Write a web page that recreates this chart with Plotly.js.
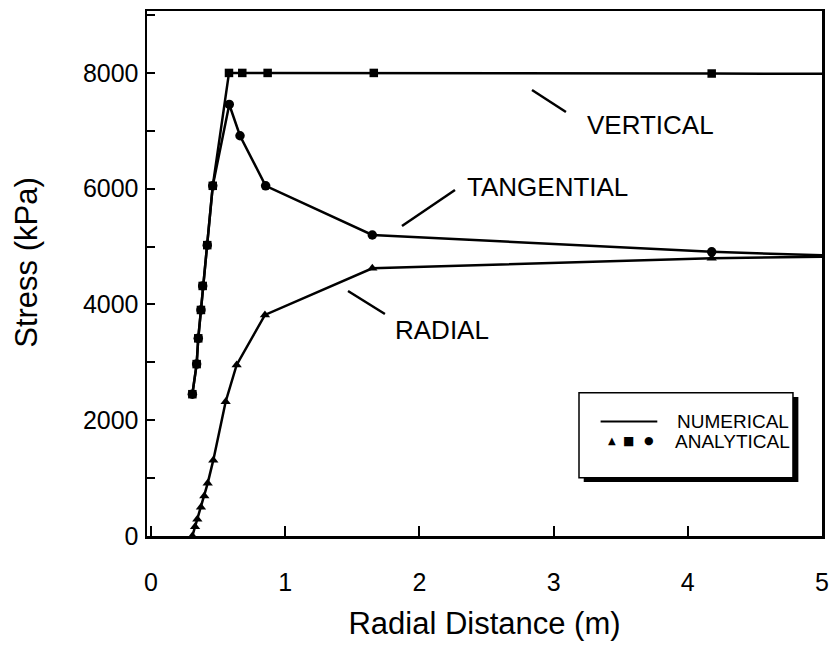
<!DOCTYPE html>
<html>
<head>
<meta charset="utf-8">
<script src="https://cdn.plot.ly/plotly-3.0.1.min.js"></script>
<style>html,body{margin:0;padding:0;background:#fff;}#chart{width:832px;height:665px;}</style>
</head>
<body>
<div id="chart"></div>
<script>
// ---- Data ----
// Analytical points (markers)
const vertAnaX = [0.308, 0.340, 0.352, 0.372, 0.385, 0.419, 0.460, 0.581, 0.680, 0.869, 1.660, 4.178];
const vertAnaY = [2450, 2970, 3415, 3905, 4320, 5025, 6050, 8000, 8000, 8000, 8000, 7990];
const tangAnaX = [0.308, 0.340, 0.352, 0.372, 0.385, 0.419, 0.460, 0.583, 0.663, 0.854, 1.649, 4.178];
const tangAnaY = [2450, 2970, 3415, 3905, 4320, 5025, 6050, 7455, 6915, 6050, 5200, 4910];
const radAnaX  = [0.308, 0.328, 0.345, 0.372, 0.397, 0.422, 0.464, 0.556, 0.638, 0.849, 1.649, 4.178];
const radAnaY  = [0, 160, 290, 495, 690, 910, 1310, 2320, 2955, 3820, 4625, 4800];
// Numerical solution (lines)
const vertNumX = [0.308, 0.340, 0.352, 0.372, 0.385, 0.419, 0.460, 0.581, 0.680, 0.869, 1.660, 4.178, 5.0];
const vertNumY = [2450, 2970, 3415, 3905, 4320, 5025, 6050, 8000, 8000, 8000, 8000, 7990, 7985];
const tangNumX = [0.308, 0.340, 0.352, 0.372, 0.385, 0.419, 0.460, 0.583, 0.663, 0.854, 1.649, 4.178, 5.0];
const tangNumY = [2450, 2970, 3415, 3905, 4320, 5025, 6050, 7455, 6915, 6050, 5200, 4910, 4850];
const radNumX  = [0.308, 0.328, 0.345, 0.372, 0.397, 0.422, 0.464, 0.556, 0.638, 0.849, 1.649, 4.178, 5.0];
const radNumY  = [0, 160, 290, 495, 690, 910, 1310, 2320, 2955, 3820, 4625, 4800, 4825];

const seriesLabels = ["VERTICAL", "TANGENTIAL", "RADIAL"];
const legendLabels = ["NUMERICAL", "ANALYTICAL"];
const xTitle = "Radial Distance (m)";
const yTitle = "Stress (kPa)";

const FONT = "'Liberation Sans', Arial, Helvetica, sans-serif";
const lineStyle = {color: "#000", width: 2.5};

const traces = [
  {x: vertNumX, y: vertNumY, mode: "lines", line: lineStyle, hoverinfo: "skip"},
  {x: tangNumX, y: tangNumY, mode: "lines", line: lineStyle, hoverinfo: "skip"},
  {x: radNumX,  y: radNumY,  mode: "lines", line: lineStyle, hoverinfo: "skip"},
  {x: vertAnaX, y: vertAnaY, mode: "markers", marker: {symbol: "square", size: 8.5, color: "#000"}},
  {x: tangAnaX, y: tangAnaY, mode: "markers", marker: {symbol: "circle", size: 9.5, color: "#000"}},
  {x: radAnaX,  y: radAnaY,  mode: "markers", marker: {symbol: "triangle-up", size: 9, color: "#000"}}
];

const leader = (x0, y0, x1, y1) => ({type: "line", xref: "x", yref: "y", x0, y0, x1, y1, line: {color: "#000", width: 2.5}});

const layout = {
  width: 832, height: 665,
  margin: {l: 147, r: 10, t: 11, b: 129},
  paper_bgcolor: "#fff", plot_bgcolor: "#fff",
  showlegend: false,
  font: {family: FONT, color: "#000"},
  xaxis: {
    range: [-0.03, 5.0], tick0: 0, dtick: 1,
    showline: true, mirror: true, linecolor: "#000", linewidth: 2.5,
    ticks: "inside", ticklen: 10, tickwidth: 2, tickcolor: "#000",
    showgrid: false, zeroline: false,
    tickfont: {size: 25, family: FONT}, ticklabelstandoff: 22,
    title: {text: xTitle, font: {size: 31, family: FONT}, standoff: 18}
  },
  yaxis: {
    range: [0, 9070], tick0: 0, dtick: 2000,
    showline: true, mirror: true, linecolor: "#000", linewidth: 2.5,
    ticks: "inside", ticklen: 8, tickwidth: 2, tickcolor: "#000",
    minor: {dtick: 1000, ticks: "inside", ticklen: 8, tickwidth: 2, tickcolor: "#000", showgrid: false},
    showgrid: false, zeroline: false,
    tickfont: {size: 25, family: FONT}, ticklabelstandoff: 1
  },
  shapes: [
    leader(2.839, 7705, 3.092, 7325),
    leader(1.870, 5356, 2.265, 5978),
    leader(1.468, 4233, 1.743, 3835),
    // legend box shadow + box
    {type: "rect", xref: "paper", yref: "paper", x0: 0.647, x1: 0.965, y0: 0.103, y1: 0.265, fillcolor: "#000", line: {width: 0}},
    {type: "rect", xref: "paper", yref: "paper", x0: 0.640, x1: 0.957, y0: 0.111, y1: 0.273, fillcolor: "#fff", line: {color: "#000", width: 1.5}},
    {type: "line", xref: "paper", yref: "paper", x0: 0.672, x1: 0.756, y0: 0.218, y1: 0.218, line: {color: "#000", width: 2}}
  ],
  annotations: [
    // y-axis title (placed as in the reference, slightly above the plot centre)
    {x: -0.178, y: 0.522, xref: "paper", yref: "paper", text: yTitle, textangle: -90, showarrow: false, xanchor: "center", yanchor: "middle", font: {size: 31, family: FONT}},
    {x: 3.234, y: 7100, xref: "x", yref: "y", text: seriesLabels[0], showarrow: false, xanchor: "left", yanchor: "middle", font: {size: 26, family: FONT}},
    {x: 2.340, y: 6029, xref: "x", yref: "y", text: seriesLabels[1], showarrow: false, xanchor: "left", yanchor: "middle", font: {size: 26, family: FONT}},
    {x: 1.803, y: 3559, xref: "x", yref: "y", text: seriesLabels[2], showarrow: false, xanchor: "left", yanchor: "middle", font: {size: 26, family: FONT}},
    {x: 0.782, y: 0.218, xref: "paper", yref: "paper", text: legendLabels[0], showarrow: false, xanchor: "left", yanchor: "middle", font: {size: 19, family: FONT}},
    {x: 0.779, y: 0.180, xref: "paper", yref: "paper", text: legendLabels[1], showarrow: false, xanchor: "left", yanchor: "middle", font: {size: 19, family: FONT}},
    {x: 0.689, y: 0.181, xref: "paper", yref: "paper", text: "▲", showarrow: false, xanchor: "center", yanchor: "middle", font: {size: 10, family: "DejaVu Sans"}},
    {x: 0.713, y: 0.181, xref: "paper", yref: "paper", text: "■", showarrow: false, xanchor: "center", yanchor: "middle", font: {size: 12, family: "DejaVu Sans"}},
    {x: 0.743, y: 0.181, xref: "paper", yref: "paper", text: "●", showarrow: false, xanchor: "center", yanchor: "middle", font: {size: 11, family: "DejaVu Sans"}}
  ]
};

Plotly.newPlot("chart", traces, layout, {displayModeBar: false, staticPlot: true});
</script>
</body>
</html>
